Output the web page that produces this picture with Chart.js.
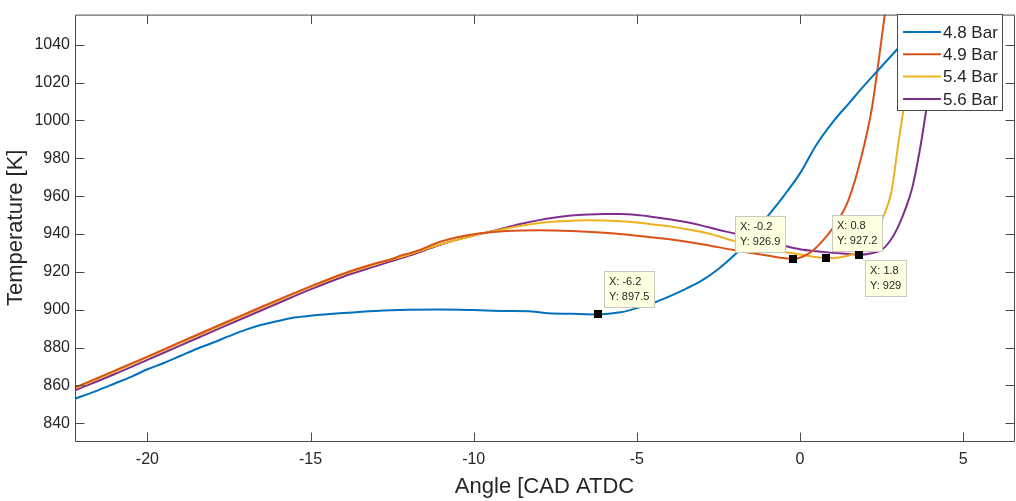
<!DOCTYPE html>
<html>
<head>
<meta charset="utf-8">
<script src="https://cdn.jsdelivr.net/npm/chart.js@4.4.1/dist/chart.umd.min.js"></script>
<style>
  html, body { margin: 0; padding: 0; background: #fff; }
  #wrap { width: 1016px; height: 501px; }
</style>
</head>
<body>
<div id="wrap"><canvas id="chart" width="1016" height="501"></canvas></div>
<script>
// crank angle [CAD ATDC] and in-cylinder temperature [K] per intake pressure
const angle48 = [-22.3, -21.5, -21, -20.5, -20, -19.5, -19, -18.5, -18, -17.5, -17, -16.5, -16, -15.5, -15, -14, -13, -12, -11, -10, -9, -8.3, -8.0, -7.7, -7, -6.2, -5.5, -5, -4.5, -4, -3.5, -3, -2.5, -2, -1.5, -1, -0.5, 0, 0.5, 1, 1.5, 2, 2.5, 3, 3.5, 4, 4.5];
const temp48 = [852.5, 857.5, 861, 864.5, 868.5, 871.8, 875.5, 879.2, 882.5, 886, 889.3, 892, 894, 895.8, 896.8, 898.2, 899.3, 899.9, 900.1, 899.8, 899.3, 899.2, 898.6, 898.1, 897.8, 897.5, 898.6, 900.8, 903.5, 907, 911, 915.5, 921.5, 929, 937.5, 949, 960, 972, 987, 999, 1009, 1019, 1028.5, 1038, 1048, 1058, 1068];

const angle49 = [-22.3, -21, -20, -19, -18, -17, -16, -15, -14, -13, -12.5, -12.2, -12, -11.7, -11, -10, -9, -8, -7, -6, -5, -4, -3, -2, -1, -0.2, 0.3, 0.8, 1.2, 1.5, 1.9, 2.2, 2.4, 2.6, 2.8];
const temp49 = [858.3, 867.8, 875.2, 882.8, 890.3, 897.8, 905.2, 912.3, 919, 924.5, 926.8, 928.8, 929.6, 931.3, 936, 939.8, 941.5, 942, 941.6, 940.6, 939.1, 937.2, 934.6, 931.4, 928.6, 926.9, 930, 938.5, 948, 958.5, 982, 1006, 1030, 1056, 1080];

const angle54 = [-22.3, -21, -20, -19, -18, -17, -16, -15, -14, -13, -12, -11, -10, -9.5, -9, -8.5, -8, -7.5, -7, -6.5, -6, -5.5, -5, -4.5, -4, -3.5, -3, -2.5, -2, -1.5, -1, -0.5, 0, 0.4, 0.8, 1.2, 1.6, 2, 2.3, 2.55, 2.8, 3.0, 3.25, 3.45, 3.6, 3.8];
const temp54 = [857.8, 867.3, 874.8, 882.3, 889.8, 897.3, 904.7, 911.9, 918.6, 924, 929, 934.6, 939.2, 941.1, 942.9, 944.5, 945.8, 946.6, 947, 947.2, 947.1, 946.7, 946, 945, 944, 942.6, 941, 938.8, 936.2, 934, 932.2, 930.6, 929.2, 928, 927.2, 927.6, 929.2, 933, 939.5, 949, 962, 986, 1015, 1040, 1056, 1080];

const angle56 = [-22.3, -21, -20, -19, -18, -17, -16, -15, -14, -13, -12, -11, -10.5, -10, -9.5, -9, -8.5, -8, -7.5, -7, -6.5, -6, -5.5, -5, -4.5, -4, -3.5, -3, -2.5, -2, -1.5, -1, -0.5, 0, 0.5, 1, 1.5, 1.8, 2.2, 2.5, 2.75, 3.0, 3.25, 3.45, 3.7, 3.95, 4.15, 4.25, 4.4];
const temp56 = [856.8, 866, 873.5, 881, 888.5, 896, 903.4, 910.7, 917.4, 923, 928.4, 934.4, 937, 939.2, 941.2, 943.4, 945.5, 947.3, 948.7, 949.8, 950.3, 950.5, 950.5, 950, 949, 947.8, 946.3, 944.4, 942.2, 940.2, 938.1, 935.9, 933.8, 931.9, 930.8, 930, 929.4, 929, 929.8, 931.5, 936, 943.5, 954, 965, 987, 1015, 1040, 1056, 1080];

const seriesNames = ['4.8 Bar', '4.9 Bar', '5.4 Bar', '5.6 Bar'];
const xTicks = [-20, -15, -10, -5, 0, 5];
const yTicks = [840, 860, 880, 900, 920, 940, 960, 980, 1000, 1020, 1040];

// data tips (marked points)
const tipAngle = [-6.2, -0.2, 0.8, 1.8];
const tipTemp = [897.5, 926.9, 927.2, 929];

const FONT = '"Liberation Sans", Arial, Helvetica, sans-serif';
const INK = '#262626';
const colors = ['#0072BD', '#D95319', '#EDB120', '#7E2F8E'];

const toPoints = (xs, ys) => xs.map((x, i) => ({ x: x, y: ys[i] }));

// box corner the tip label is anchored to, relative to its marker
const tipPlacement = ['ne', 'nw', 'ne', 'se'];

const axesBox = {
  id: 'axesBox',
  afterDatasetsDraw(chart) {
    const { ctx, chartArea: a, scales } = chart;
    const L = a.left + 0.5, R = a.right + 0.5, T = a.top + 0.5, B = a.bottom + 0.5;
    const tick = 9;
    ctx.save();
    ctx.strokeStyle = '#4a4a4a';
    ctx.lineWidth = 1;
    ctx.beginPath();
    ctx.rect(L, T, R - L, B - T);
    xTicks.forEach(v => {
      const px = Math.round(scales.x.getPixelForValue(v)) + 0.5;
      ctx.moveTo(px, B); ctx.lineTo(px, B - tick);
      ctx.moveTo(px, T); ctx.lineTo(px, T + tick);
    });
    yTicks.forEach(v => {
      const py = Math.round(scales.y.getPixelForValue(v)) + 0.5;
      ctx.moveTo(L, py); ctx.lineTo(L + tick, py);
      ctx.moveTo(R, py); ctx.lineTo(R - tick, py);
    });
    ctx.stroke();

    // data tips
    ctx.font = '11px ' + FONT;
    ctx.textBaseline = 'middle';
    tipAngle.forEach((ax, i) => {
      const px = scales.x.getPixelForValue(ax);
      const py = scales.y.getPixelForValue(tipTemp[i]);
      const l1 = 'X: ' + ax, l2 = 'Y: ' + tipTemp[i];
      const w = Math.ceil(Math.max(ctx.measureText(l1).width, ctx.measureText(l2).width)) + 10;
      const h = 37;
      const p = tipPlacement[i];
      const bx = p.endsWith('e') ? px + 6 : px - 7 - w;
      const by = p.startsWith('n') ? py - 6 - h : py + 5;
      ctx.fillStyle = '#ffffe1';
      ctx.fillRect(Math.round(bx), Math.round(by), w, h);
      ctx.strokeStyle = '#c9c9c0';
      ctx.strokeRect(Math.round(bx) + 0.5, Math.round(by) + 0.5, w - 1, h - 1);
      ctx.fillStyle = INK;
      ctx.fillText(l1, Math.round(bx) + 5, Math.round(by) + 11);
      ctx.fillText(l2, Math.round(bx) + 5, Math.round(by) + 26);
      ctx.fillStyle = '#000';
      ctx.fillRect(Math.round(px) - 4, Math.round(py) - 4, 8, 8);
    });

    // legend box in the upper right corner
    const lx = 897, ly = 14, lw = 106, lh = 97;
    ctx.fillStyle = '#fff';
    ctx.fillRect(lx, ly, lw, lh);
    ctx.strokeStyle = '#4a4a4a';
    ctx.strokeRect(lx + 0.5, ly + 0.5, lw - 1, lh - 1);
    ctx.font = '17px ' + FONT;
    ctx.textBaseline = 'middle';
    chart.data.datasets.forEach((ds, i) => {
      const yy = ly + 18 + i * 22.3;
      ctx.strokeStyle = ds.borderColor;
      ctx.lineWidth = 2;
      ctx.beginPath();
      ctx.moveTo(lx + 6, yy); ctx.lineTo(lx + 44, yy);
      ctx.stroke();
      ctx.fillStyle = INK;
      ctx.fillText(ds.label, lx + 46, yy + 1);
    });
    ctx.restore();
  }
};

const series = [
  toPoints(angle48, temp48),
  toPoints(angle49, temp49),
  toPoints(angle54, temp54),
  toPoints(angle56, temp56)
];

new Chart(document.getElementById('chart'), {
  type: 'line',
  data: {
    datasets: series.map((pts, i) => ({
      label: seriesNames[i],
      data: pts,
      borderColor: colors[i],
      borderWidth: 2,
      pointRadius: 0,
      fill: false,
      cubicInterpolationMode: 'monotone'
    }))
  },
  options: {
    responsive: false,
    devicePixelRatio: 1,
    animation: false,
    layout: { padding: { top: 3, right: 2, left: 0, bottom: 0 } },
    plugins: { legend: { display: false }, tooltip: { enabled: false } },
    scales: {
      x: {
        type: 'linear',
        min: -22.22,
        max: 6.56,
        afterBuildTicks: s => { s.ticks = xTicks.map(v => ({ value: v })); },
        afterFit: s => { s.height = 60; },
        grid: { display: false, drawTicks: false },
        border: { display: false },
        ticks: { color: INK, font: { family: FONT, size: 16 }, padding: 9, maxRotation: 0, callback: v => String(v) },
        title: { display: true, text: 'Angle [CAD ATDC', color: INK, font: { family: FONT, size: 22 }, padding: { top: 0, bottom: 1 } }
      },
      y: {
        type: 'linear',
        min: 830.6,
        max: 1055.9,
        afterBuildTicks: s => { s.ticks = yTicks.map(v => ({ value: v })); },
        afterFit: s => { s.width = 75; },
        grid: { display: false, drawTicks: false },
        border: { display: false },
        ticks: { color: INK, font: { family: FONT, size: 16 }, padding: 5, callback: v => String(v) },
        title: { display: true, text: 'Temperature [K]', color: INK, font: { family: FONT, size: 22 }, padding: { top: 3, bottom: 0 } }
      }
    }
  },
  plugins: [axesBox]
});
</script>
</body>
</html>
